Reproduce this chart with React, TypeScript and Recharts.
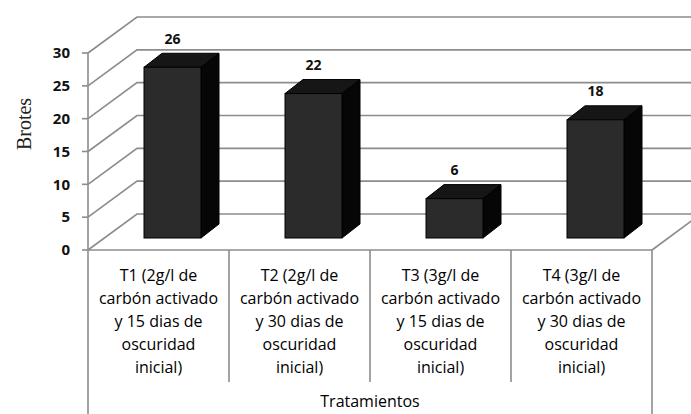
import React from 'react';
import { BarChart, Bar, XAxis, YAxis, CartesianGrid, LabelList, Label } from 'recharts';

const categories = ['T1', 'T2', 'T3', 'T4'];
const categoryLines = [
  ['T1 (2g/l de', 'carbón activado', 'y 15 dias de', 'oscuridad', 'inicial)'],
  ['T2 (2g/l de', 'carbón activado', 'y 30 dias de', 'oscuridad', 'inicial)'],
  ['T3 (3g/l de', 'carbón activado', 'y 15 dias de', 'oscuridad', 'inicial)'],
  ['T4 (3g/l de', 'carbón activado', 'y 30 dias de', 'oscuridad', 'inicial)'],
];
const brotes = [26, 22, 6, 18];
const yTicks = [0, 5, 10, 15, 20, 25, 30];

const data = categories.map((name, i) => ({ name, brotes: brotes[i] }));

// fake 3D offsets (Excel style)
const WALL_DX = 49;
const WALL_DY = -36;
const BAR_DX = 14;
const BAR_DY = -12;
const DEPTH_DX = 18;
const DEPTH_DY = -14;

const W = 691;
const H = 414;
const PLOT_LEFT = 88;
const PLOT_RIGHT = 652;
const BAND = (PLOT_RIGHT - PLOT_LEFT) / categories.length;
const GRID = '#8c8c8c';
const FONT = '"Open Sans", "Liberation Sans", sans-serif';

const gridLine = (p: any) => {
  const { x1, x2, y1 } = p;
  return (
    <path
      d={`M${x1},${y1} L${x1 + WALL_DX},${y1 + WALL_DY} L${x2 + WALL_DX + 10},${y1 + WALL_DY}`}
      fill="none"
      stroke={GRID}
      strokeWidth={1.6}
    />
  );
};

const Bar3D = (props: any) => {
  const { x, y, width, height } = props;
  const fx = x + BAR_DX;
  const fy = y + BAR_DY;
  return (
    <g>
      <polygon
        points={`${fx},${fy} ${fx + DEPTH_DX},${fy + DEPTH_DY} ${fx + width + DEPTH_DX},${fy + DEPTH_DY} ${fx + width},${fy}`}
        fill="#161616"
        stroke="#000"
        strokeWidth={1}
      />
      <polygon
        points={`${fx + width},${fy} ${fx + width + DEPTH_DX},${fy + DEPTH_DY} ${fx + width + DEPTH_DX},${fy + height + DEPTH_DY} ${fx + width},${fy + height}`}
        fill="#060606"
        stroke="#000"
        strokeWidth={1}
      />
      <rect x={fx} y={fy} width={width} height={height} fill="#2b2b2b" stroke="#000" strokeWidth={1} />
    </g>
  );
};

const ValueLabel = (props: any) => {
  const { x, y, width, value } = props;
  return (
    <text
      x={x + width / 2 + BAR_DX}
      y={y + BAR_DY - 29}
      textAnchor="middle"
      dominantBaseline="central"
      fontFamily={FONT}
      fontWeight="bold"
      fontSize={14}
      fill="#111"
    >
      {value}
    </text>
  );
};

const CategoryTick = (props: any) => {
  const { x, y, index } = props;
  const lines = categoryLines[index] || [];
  const left = x - BAND / 2;
  const right = x + BAND / 2;
  const last = index === categories.length - 1;
  return (
    <g>
      <line x1={left} y1={y} x2={left} y2={index === 0 ? H : 382} stroke={GRID} strokeWidth={1.6} />
      {last && (
        <>
          <line x1={right} y1={y} x2={right} y2={H} stroke={GRID} strokeWidth={1.6} />
          <line x1={right} y1={y} x2={right + WALL_DX} y2={y + WALL_DY} stroke={GRID} strokeWidth={1.6} />
        </>
      )}
      <text textAnchor="middle" fontFamily={FONT} fontSize={16} fill="#000">
        {lines.map((l, i) => (
          <tspan key={i} x={x} y={y + 31 + i * 23}>
            {l}
          </tspan>
        ))}
      </text>
    </g>
  );
};

export default function App() {
  return (
    <div style={{ position: 'absolute', left: 0, top: 0, width: W, height: H, background: '#fff' }}>
      <BarChart width={W} height={H} data={data} margin={{ top: 53, right: W - PLOT_RIGHT, left: 0, bottom: 0 }}>
        <CartesianGrid vertical={false} horizontal={gridLine} />
        <XAxis
          dataKey="name"
          height={H - 250}
          axisLine={{ stroke: GRID, strokeWidth: 1.6 }}
          tickLine={false}
          tickSize={0}
          tickMargin={0}
          tick={<CategoryTick />}
          interval={0}
        >
          <Label
            value="Tratamientos"
            position="insideBottom"
            offset={7}
            style={{ fontFamily: FONT, fontSize: 16, fill: '#000' }}
          />
        </XAxis>
        <YAxis
          width={PLOT_LEFT}
          domain={[0, 30]}
          ticks={yTicks}
          interval={0}
          axisLine={{ stroke: GRID, strokeWidth: 1.6 }}
          tickLine={{ stroke: GRID, strokeWidth: 1.6 }}
          tickSize={6}
          tickMargin={12}
          tick={{ fontFamily: FONT, fontWeight: 'bold', fontSize: 15, fill: '#111' }}
        >
          <Label
            content={() => (
              <text
                transform="translate(24,124) rotate(-90)"
                textAnchor="middle"
                dominantBaseline="central"
                fontFamily='"Liberation Serif", "DejaVu Serif", serif'
                fontSize={20}
                fill="#222"
              >
                Brotes
              </text>
            )}
          />
        </YAxis>
        <Bar dataKey="brotes" barSize={57} shape={<Bar3D />} isAnimationActive={false}>
          <LabelList dataKey="brotes" content={<ValueLabel />} />
        </Bar>
      </BarChart>
    </div>
  );
}
